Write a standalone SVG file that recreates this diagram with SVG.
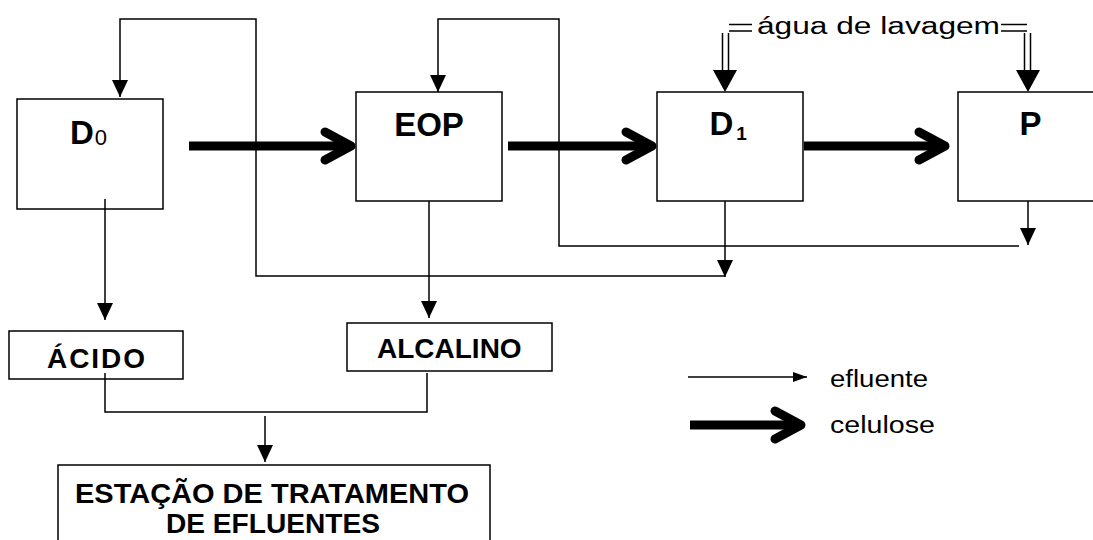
<svg xmlns="http://www.w3.org/2000/svg" width="1093" height="540" viewBox="0 0 1093 540">
<style>
.box{fill:#fff;stroke:#000;stroke-width:1.5}
.big{font-family:"Liberation Sans",Arial,sans-serif;font-weight:bold;font-size:33px;fill:#000}
.lbl{font-family:"Liberation Sans",Arial,sans-serif;font-weight:bold;font-size:28px;fill:#000}
.reg{font-family:"Liberation Sans",Arial,sans-serif;font-size:23px;fill:#000}
.thin{fill:none;stroke:#000;stroke-width:1.5}
.shaft{fill:none;stroke:#000;stroke-width:9}
.chev{fill:none;stroke:#000;stroke-width:9;stroke-linecap:round;stroke-linejoin:round}
</style>
<defs>
<marker id="ah" markerUnits="userSpaceOnUse" viewBox="0 0 17 16" refX="17" refY="8" markerWidth="17" markerHeight="16" orient="auto">
<path d="M0,0 L17,8 L0,16 z" fill="#000"/>
</marker>
<marker id="ahs" markerUnits="userSpaceOnUse" viewBox="0 0 14 10" refX="14" refY="5" markerWidth="14" markerHeight="10" orient="auto">
<path d="M0,0 L14,5 L0,10 z" fill="#000"/>
</marker>
</defs>
<g id="D0"><rect class="box" x="17" y="99" width="146" height="110"/><text class="big" x="70" y="144">D<tspan font-size="22" font-weight="normal" dx="1" dy="1">0</tspan></text></g>
<g id="EOP"><rect class="box" x="356" y="92" width="146" height="109"/><text class="big" x="429" y="136" text-anchor="middle">EOP</text></g>
<g id="D1"><rect class="box" x="657" y="92" width="146" height="109"/><text class="big" x="709.5" y="135">D<tspan font-size="19" dx="3" dy="5">1</tspan></text></g>
<g id="P"><rect class="box" x="958" y="92" width="150" height="109"/><text class="big" x="1019.5" y="135">P</text></g>
<g id="ACIDO"><rect class="box" x="9" y="331" width="174" height="48"/><text class="lbl" x="47" y="368" textLength="98" lengthAdjust="spacing">ÁCIDO</text></g>
<g id="ALCALINO"><rect class="box" x="347" y="323" width="205" height="48"/><text class="lbl" x="377" y="358">ALCALINO</text></g>
<g id="ETE"><rect class="box" x="58" y="465" width="432" height="85"/><text class="lbl" x="272" y="503" text-anchor="middle" textLength="394" lengthAdjust="spacingAndGlyphs">ESTAÇÃO DE TRATAMENTO</text><text class="lbl" x="273" y="533" text-anchor="middle" textLength="214" lengthAdjust="spacingAndGlyphs">DE EFLUENTES</text></g>
<g id="agua"><text class="reg" x="757" y="34" textLength="243" lengthAdjust="spacingAndGlyphs">água de lavagem</text></g>
<g id="legenda"><text class="reg" x="830" y="387" textLength="98" lengthAdjust="spacingAndGlyphs">efluente</text><text class="reg" x="830" y="433" textLength="105" lengthAdjust="spacingAndGlyphs">celulose</text></g>
<g id="connectors">
<path class="thin" d="M725,276 H256 V19 H120 V97" marker-end="url(#ah)"/>
<path class="thin" d="M1019,246 H559 V19 H438 V92" marker-end="url(#ah)"/>
<path class="thin" d="M725,201 V277" marker-end="url(#ah)"/>
<path class="thin" d="M1028,201 V245" marker-end="url(#ah)"/>
<path class="thin" d="M105,199 V320" marker-end="url(#ah)"/>
<path class="thin" d="M429,201 V318" marker-end="url(#ah)"/>
<path class="thin" d="M105,373 V412 H427 V373"/>
<path class="thin" d="M265,416 V462" marker-end="url(#ah)"/>
<path class="thin" d="M688,377 H807" marker-end="url(#ahs)"/>
<path class="shaft" d="M189,146 H350"/><path class="chev" d="M325,132 L351,146 L325,160"/>
<path class="shaft" d="M508,146 H651"/><path class="chev" d="M626,132 L652,146 L626,160"/>
<path class="shaft" d="M804,146 H944"/><path class="chev" d="M919,132 L945,146 L919,160"/>
<path class="shaft" d="M690,425 H800"/><path class="chev" d="M775,411 L801,425 L775,439"/>
<path class="thin" d="M729,24.5 H752 M729,31 H752 M722.5,33 V72 M728.5,33 V72"/>
<path d="M713,70 L737,70 L725,92 z" fill="#000"/>
<path class="thin" d="M1001,24.5 H1027 M1001,31 H1027 M1024.5,33 V72 M1030.5,33 V72"/>
<path d="M1016,70 L1040,70 L1028,92 z" fill="#000"/>
</g>
</svg>
